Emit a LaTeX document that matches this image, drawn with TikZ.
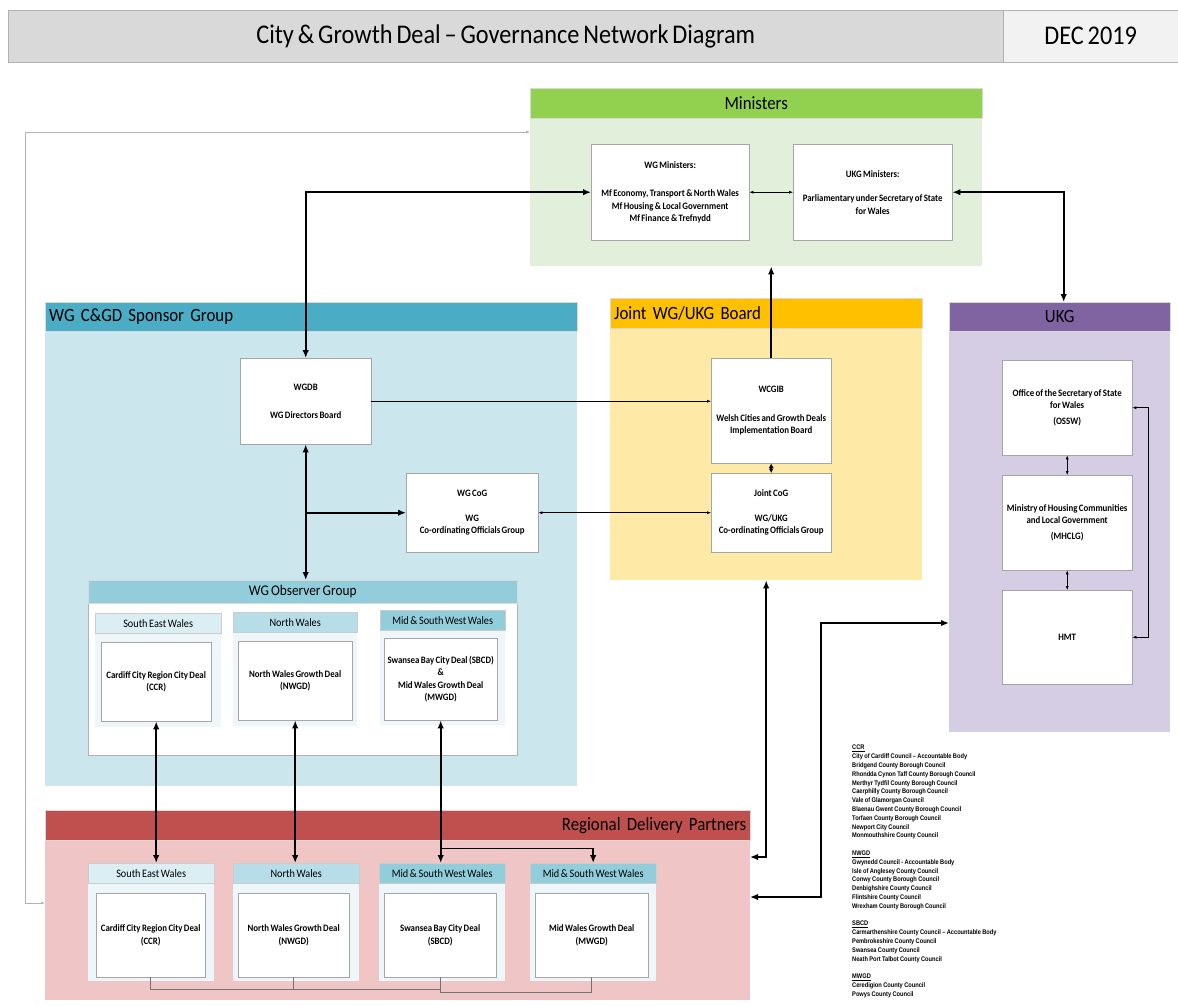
\documentclass[tikz,border=0pt]{standalone}
\usepackage{fontspec}
\setmainfont[FakeStretch=0.9,WordSpace=0.7]{Carlito}
\newfontfamily\listfont[FakeStretch=0.85,WordSpace=0.85]{Liberation Sans}
\usetikzlibrary{positioning,arrows.meta}
\definecolor{titlegrey}{HTML}{D9D9D9}
\definecolor{titlelight}{HTML}{F2F2F2}
\definecolor{minheadc}{HTML}{92D050}
\definecolor{minbodyc}{HTML}{E2EFDA}
\definecolor{spoheadc}{HTML}{4BACC6}
\definecolor{spobodyc}{HTML}{CCE6EE}
\definecolor{obsheadc}{HTML}{92CDDC}
\definecolor{seheadc}{HTML}{DAEEF3}
\definecolor{nwheadc}{HTML}{B7DEE8}
\definecolor{mswheadc}{HTML}{92CDDC}
\definecolor{panelc}{HTML}{EEF6F9}
\definecolor{jntheadc}{HTML}{FFC000}
\definecolor{jntbodyc}{HTML}{FFE9A6}
\definecolor{ukgheadc}{HTML}{8064A2}
\definecolor{ukgbodyc}{HTML}{D5CDE4}
\definecolor{rdpheadc}{HTML}{C0504D}
\definecolor{rdpbodyc}{HTML}{EFC6C5}

\begin{document}
\begin{tikzpicture}[x=1pt,y=-1pt,
    group head/.style={draw=black!15,anchor=north west,inner sep=0pt,font=\fontsize{18.7}{20}\selectfont},
    group body/.style={anchor=north west,inner sep=0pt},
    main box/.style={draw=black!35,fill=white,anchor=north west,align=center,inner sep=1pt,font=\fontsize{9.8}{12.5}\selectfont\bfseries},
    sub head/.style={draw=black!20,anchor=north west,inner sep=0pt,minimum width=126,minimum height=20,font=\fontsize{11.4}{13}\selectfont},
    sub panel/.style={fill=panelc,anchor=north west,inner sep=0pt,minimum width=126},
    strong link/.style={line width=1.6pt,>={Latex[length=8pt,width=6.5pt]}},
    weak link/.style={line width=0.5pt,>={Latex[length=4pt,width=3pt]}}]

    \useasboundingbox (0,0) rectangle (1178,1005);

    \node[group head,fill=titlegrey,draw=black!30,minimum width=995,minimum height=52,font=\fontsize{27}{30}\selectfont] (title) at (8,10) {City \& Growth Deal – Governance Network Diagram};
    \node[group head,fill=titlelight,draw=black!30,minimum width=175,minimum height=52,font=\fontsize{27}{30}\selectfont] (date) at (1003,10) {DEC 2019};

    % ministers
    \node[group body,fill=minbodyc,minimum width=452,minimum height=148] (minbody) at (530,118) {};
    \node[group head,fill=minheadc,minimum width=452,minimum height=30] (minhead) at (530,88) {Ministers};
    \node[main box,minimum width=158,minimum height=96] (wgmin) at (591,144) {WG Ministers:\\[16pt]Mf Economy, Transport \& North Wales\\Mf Housing \& Local Government\\Mf Finance \& Trefnydd};
    \node[main box,minimum width=159,minimum height=96] (ukgmin) at (793,144) {UKG Ministers:\\[12pt]Parliamentary under Secretary of State\\for Wales};

    % sponsor group
    \node[group body,fill=spobodyc,minimum width=532,minimum height=455] (spobody) at (45,331) {};
    \node[group head,fill=spoheadc,text width=524,inner xsep=4pt,align=left,minimum height=29] (spohead) at (45,302) {WG C\&GD Sponsor Group};
    \node[main box,minimum width=131,minimum height=86] (wgdb) at (240,358) {WGDB\\[16pt]WG Directors Board};
    \node[main box,minimum width=132,minimum height=79] (wgcog) at (406,473) {WG CoG\\[12pt]WG\\Co-ordinating Officials Group};

    % observer group
    \node[group body,fill=white,draw=black!30,minimum width=429,minimum height=152] (obsbody) at (88,603) {};
    \node[group head,fill=obsheadc,minimum width=429,minimum height=23,font=\fontsize{14.8}{16}\selectfont] (obshead) at (88,580) {WG Observer Group};
    \node[sub panel,minimum height=95] (obssep) at (95,632) {};
    \node[sub head,fill=seheadc] (obsse) at (95,613) {South East Wales};
    \node[main box,minimum width=110,minimum height=79] (obsseb) at (101,642) {Cardiff City Region City Deal\\(CCR)};
    \node[sub panel,minimum height=95,minimum width=124] (obsnwp) at (233,631) {};
    \node[sub head,fill=nwheadc,minimum width=124] (obsnw) at (233,612) {North Wales};
    \node[main box,minimum width=114,minimum height=79] (obsnwb) at (238,641) {North Wales Growth Deal\\(NWGD)};
    \node[sub panel,minimum height=95,minimum width=125] (obsmswp) at (380,630) {};
    \node[sub head,fill=mswheadc,minimum width=125] (obsmsw) at (380,610) {Mid \& South West Wales};
    \node[main box,minimum width=113,minimum height=82] (obsmswb) at (384,638) {Swansea Bay City Deal (SBCD)\\\&\\Mid Wales Growth Deal\\(MWGD)};

    % joint board
    \node[group body,fill=jntbodyc,minimum width=312,minimum height=252] (jntbody) at (610,328) {};
    \node[group head,fill=jntheadc,text width=304,inner xsep=4pt,align=left,minimum height=30] (jnthead) at (610,298) {Joint WG/UKG Board};
    \node[main box,minimum width=120,minimum height=105] (wcgib) at (711,358) {WCGIB\\[16pt]Welsh Cities and Growth Deals\\Implementation Board};
    \node[main box,minimum width=120,minimum height=79] (jcog) at (711,473) {Joint CoG\\[12pt]WG/UKG\\Co-ordinating Officials Group};

    % ukg
    \node[group body,fill=ukgbodyc,minimum width=221,minimum height=401] (ukgbody) at (949,331) {};
    \node[group head,fill=ukgheadc,minimum width=221,minimum height=29] (ukghead) at (949,302) {UKG};
    \node[main box,minimum width=130,minimum height=95] (ossw) at (1002,360) {Office of the Secretary of State\\for Wales\\[3pt](OSSW)};
    \node[main box,minimum width=130,minimum height=95] (mhclg) at (1002,475) {Ministry of Housing Communities\\and Local Government\\[3pt](MHCLG)};
    \node[main box,minimum width=130,minimum height=94] (hmt) at (1002,590) {HMT};

    % regional delivery partners
    \node[group body,fill=rdpbodyc,minimum width=705,minimum height=160] (rdpbody) at (45,840) {};
    \node[group head,fill=rdpheadc,text width=697,inner xsep=4pt,align=right,minimum height=30] (rdphead) at (45,810) {Regional Delivery Partners};
    \node[sub panel,minimum height=98] (rdpsep) at (88,883) {};
    \node[sub head,fill=seheadc] (rdpse) at (88,863) {South East Wales};
    \node[main box,minimum width=109,minimum height=84] (rdpseb) at (96,893) {Cardiff City Region City Deal\\(CCR)};
    \node[sub panel,minimum height=98] (rdpnwp) at (233,883) {};
    \node[sub head,fill=nwheadc] (rdpnw) at (233,863) {North Wales};
    \node[main box,minimum width=111,minimum height=84] (rdpnwb) at (238,893) {North Wales Growth Deal\\(NWGD)};
    \node[sub panel,minimum height=98] (rdpsbp) at (379,883) {};
    \node[sub head,fill=mswheadc] (rdpsb) at (379,863) {Mid \& South West Wales};
    \node[main box,minimum width=112,minimum height=84] (rdpsbb) at (384,893) {Swansea Bay City Deal\\(SBCD)};
    \node[sub panel,minimum height=98] (rdpmwp) at (530,883) {};
    \node[sub head,fill=mswheadc] (rdpmw) at (530,863) {Mid \& South West Wales};
    \node[main box,minimum width=113,minimum height=84] (rdpmwb) at (535,893) {Mid Wales Growth Deal\\(MWGD)};

    \node[anchor=north west,align=left,inner sep=0pt,font=\listfont\bfseries\fontsize{6.7}{8.8}\selectfont] (councils) at (852,745) {\underline{CCR}\\
        City of Cardiff Council – Accountable Body\\
        Bridgend County Borough Council\\
        Rhondda Cynon Taff County Borough Council\\
        Merthyr Tydfil County Borough Council\\
        Caerphilly County Borough Council\\
        Vale of Glamorgan Council\\
        Blaenau Gwent County Borough Council\\
        Torfaen County Borough Council\\
        Newport City Council\\
        Monmouthshire County Council\\[8.8pt]
        \underline{NWGD}\\
        Gwynedd Council - Accountable Body\\
        Isle of Anglesey County Council\\
        Conwy County Borough Council\\
        Denbighshire County Council\\
        Flintshire County Council\\
        Wrexham County Borough Council\\[8.8pt]
        \underline{SBCD}\\
        Carmarthenshire County Council – Accountable Body\\
        Pembrokeshire County Council\\
        Swansea County Council\\
        Neath Port Talbot County Council\\[8.8pt]
        \underline{MWGD}\\
        Ceredigion County Council\\
        Powys County Council};

    \coordinate (minleft) at (530,132);
    \coordinate (rdpleft) at (45,903);
    \coordinate (rdpin1) at (750,857);
    \coordinate (rdpin2) at (750,897);
    \coordinate (ukgin) at (949,623);
    \path (obsmswb.south) ++(0,128) coordinate (split);

    \draw[strong link,<->] (wgmin.west) -| (wgdb.north);
    \draw[weak link,<->] (wgmin.east) -- (ukgmin.west);
    \draw[weak link,->] (wgdb.east) -- (wgdb.east -| wcgib.west);
    \draw[strong link,<->] (wgdb.south) -- (wgdb.south |- obshead.north);
    \draw[strong link,->] (wgdb.south |- wgcog.west) -- (wgcog.west);
    \draw[weak link,<->] (wgcog.east) -- (jcog.west);
    \draw[strong link,->] (wcgib.north) -- (wcgib.north |- minbody.south);
    \draw[strong link,<->,>={Latex[length=4.5pt,width=5pt]}] (wcgib.south) -- (jcog.north);
    \draw[strong link,<->] (ukgmin.east) -| ([xshift=4pt]ukghead.north);
    \draw[weak link,<->] (ossw.south) -- (mhclg.north);
    \draw[weak link,<->] (mhclg.south) -- (hmt.north);
    \draw[weak link,<->] (hmt.east) -- ([xshift=16pt]hmt.east) |- (ossw.east);
    \draw[strong link,<->] (jntbody.south) |- (rdpin1);
    \draw[strong link,<->] (rdpin2) -- ++(71,0) |- (ukgin);
    \draw[weak link,black!30,<->] (rdpleft) -- ++(-20,0) |- (minleft);
    \draw[strong link,<->] (obsseb.south) -- (obsseb.south |- rdpse.north);
    \draw[strong link,<->] (obsnwb.south) -- (obsnwb.south |- rdpnw.north);
    \draw[strong link,<->] (obsmswb.south) -- (obsmswb.south |- rdpsb.north);
    \draw[strong link,->] (split) -| (rdpmw.north);
    \draw[weak link,black!55] (rdpseb.south) -- ++(0,12) -| (rdpsbb.south);
    \draw[weak link,black!55] (rdpnwb.south) -- ++(0,12);
    \draw[weak link,black!55] (rdpsbb.south) -- ++(0,15) -| (rdpmwb.south);
\end{tikzpicture}
\end{document}
